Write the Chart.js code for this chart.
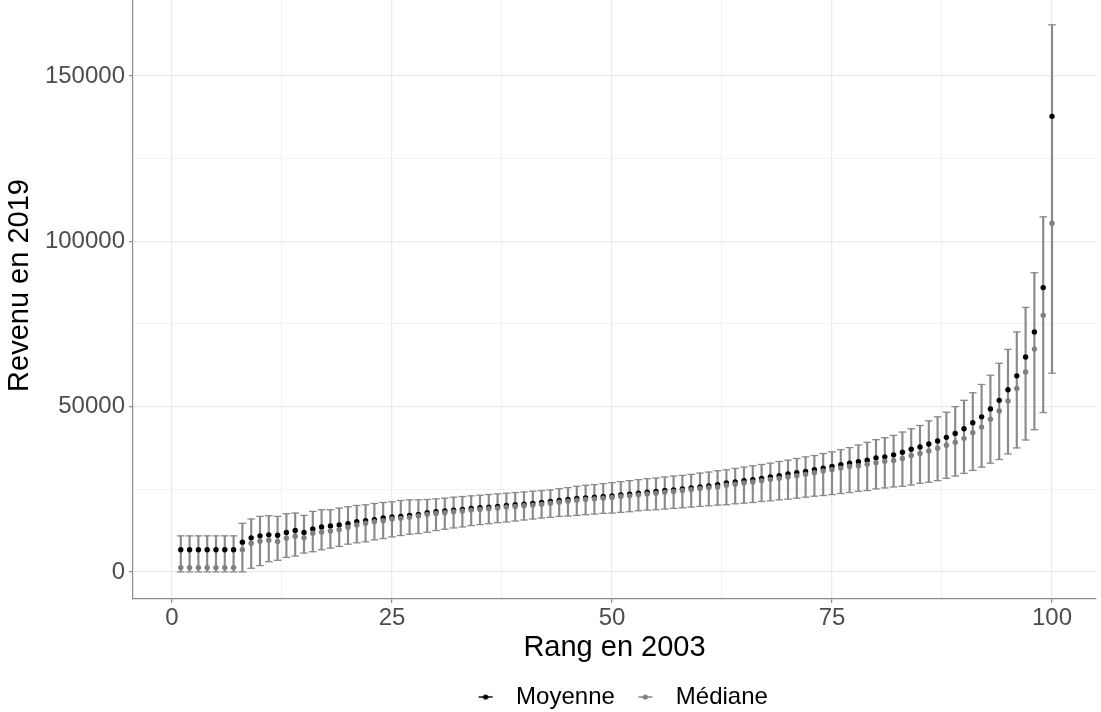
<!DOCTYPE html>
<html>
<head>
<meta charset="utf-8">
<script src="https://cdn.jsdelivr.net/npm/chart.js@4.4.1/dist/chart.umd.min.js"></script>
<style>
html,body{margin:0;padding:0;background:#ffffff;}
#wrap{width:1101px;height:712px;position:relative;}
</style>
</head>
<body>
<div id="wrap"><canvas id="c"></canvas></div>
<script>
// ---- Data ----
const ranks = [1,2,3,4,5,6,7,8,9,10,11,12,13,14,15,16,17,18,19,20,21,22,23,24,25,26,27,28,29,30,31,32,33,34,35,36,37,38,39,40,41,42,43,44,45,46,47,48,49,50,51,52,53,54,55,56,57,58,59,60,61,62,63,64,65,66,67,68,69,70,71,72,73,74,75,76,77,78,79,80,81,82,83,84,85,86,87,88,89,90,91,92,93,94,95,96,97,98,99,100];

const moyenne = [6700,6700,6700,6700,6700,6700,6700,9000,10300,10900,11200,11100,11900,12500,11900,13000,13600,13900,14200,14600,15200,15500,15800,16300,16600,16800,17100,17400,17900,18200,18400,18700,18900,19200,19400,19600,19800,20100,20300,20500,20700,21000,21300,21600,21900,22200,22400,22600,22800,23000,23300,23500,23800,24100,24300,24600,24800,25100,25400,25700,26000,26400,26900,27200,27600,27900,28300,28700,29100,29600,30000,30400,30900,31400,31900,32400,32900,33300,33800,34500,34800,35400,36200,37100,37800,38700,39600,40700,41900,43300,45100,46900,49300,51900,55100,59300,65000,72600,86000,137800];

const mediane = [1300,1300,1300,1300,1300,1300,1300,6700,8700,9300,9600,9200,10200,10800,10300,11700,12100,12400,12800,13500,14200,14700,15200,15500,16000,16200,16500,16900,17400,17700,17900,18200,18400,18700,18900,19100,19300,19600,19800,20000,20200,20500,20800,21100,21400,21700,21900,22100,22300,22500,22800,23000,23300,23600,23800,24100,24300,24600,24900,25200,25500,25700,26200,26500,26900,27200,27600,28000,28300,28700,29100,29500,30000,30500,30900,31400,31900,32100,32600,33000,33500,33700,34300,35200,35800,36600,37400,38300,39200,40400,42100,43800,46200,48700,51700,55500,60500,67400,77600,105500];

const borneHaute = [10900,10900,10900,10900,10900,10900,10900,14700,16000,16800,17000,16800,17600,17800,17100,18300,18800,18800,19300,19700,20100,20300,20700,21000,21200,21600,21800,21800,21900,22100,22300,22600,22800,23000,23200,23400,23600,23800,24000,24200,24400,24600,24800,25200,25500,25900,26200,26400,26700,27000,27300,27600,27900,28200,28400,28700,29000,29200,29500,29900,30200,30600,30900,31300,31700,32100,32500,32900,33400,33800,34300,34800,35200,35800,36300,37000,37600,38400,39200,40000,40600,41300,42300,43300,44300,45700,46900,48300,50000,51900,54200,56700,59500,63100,67300,72600,80000,90500,107400,165500];

const borneBasse = [0,0,0,0,0,0,0,0,1100,1900,3100,3500,4400,4800,5700,6100,6700,7200,7700,8400,8800,9100,9700,10100,10600,11000,11400,11600,12000,12500,12900,13300,13600,14000,14300,14600,14900,15100,15400,15700,16000,16300,16500,16800,16900,17100,17300,17500,17700,17800,18000,18200,18500,18700,18800,19000,19200,19400,19600,19800,20000,20200,20300,20600,20800,21000,21300,21500,21800,22000,22300,22600,22900,23100,23400,23700,24000,24400,24600,25100,25400,25700,25900,26300,26800,27100,27600,28300,29000,29800,30700,31700,32900,34000,35700,37500,39900,43000,48200,60100];

const xMajorTicks = [0, 25, 50, 75, 100];
const xMinorTicks = [12.5, 37.5, 62.5, 87.5];
const yMajorTicks = [0, 50000, 100000, 150000];
const yMinorTicks = [25000, 75000, 125000];

const legendNames = ['Moyenne', 'Médiane'];
const xTitle = 'Rang en 2003';
const yTitle = 'Revenu en 2019';

// ---- Styles ----
const COL_MEAN = '#000000';
const COL_MED = '#7F7F7F';
const COL_BAR = '#8A8A8A';
const GRID = '#EBEBEB';
const AXIS = '#8C8C8C';
const TICKTXT = '#4D4D4D';
const FONT = "'Liberation Sans', Arial, Helvetica, sans-serif";

function keyImg(color) {
  const c = document.createElement('canvas');
  c.width = 16; c.height = 8;
  const g = c.getContext('2d');
  g.strokeStyle = color; g.lineWidth = 1.4;
  g.beginPath(); g.moveTo(1, 4); g.lineTo(15, 4); g.stroke();
  g.fillStyle = color;
  g.beginPath(); g.arc(8, 4, 2.6, 0, Math.PI * 2); g.fill();
  return c;
}
const legendColors = [COL_MEAN, COL_MED];
const keyImgs = legendColors.map(keyImg);

const xGridTicks = xMajorTicks.concat(xMinorTicks).sort((a, b) => a - b);
const yGridTicks = yMajorTicks.concat(yMinorTicks).sort((a, b) => a - b);

// Layout adjustments: centre legend under the panel, raise the y title a little
const layoutTweaks = {
  id: 'layoutTweaks',
  afterLayout(chart) {
    const lg = chart.legend;
    if (lg && lg.lineWidths) {
      const pad = lg.options.labels.padding;
      const rowW = lg.lineWidths[0];
      const curStart = (lg.left + pad + lg.right - rowW) / 2;
      const ca = chart.chartArea;
      const want = (ca.left + ca.right) / 2 - (rowW - pad) / 2 + 3;
      const d = want - curStart;
      lg.left += d; lg.right += d;
    }
    const ys = chart.scales.y;
    if (ys) { ys.top -= 28; }
  }
};

function gridOpts(majors) {
  return {
    offset: false,
    drawTicks: true,
    tickLength: 4,
    tickWidth: 1.2,
    color: ctx => majors.includes(ctx.tick && ctx.tick.value) ? GRID : '#F0F0F0',
    lineWidth: ctx => majors.includes(ctx.tick && ctx.tick.value) ? 1.3 : 0.9,
    tickColor: ctx => majors.includes(ctx.tick && ctx.tick.value) ? AXIS : 'rgba(0,0,0,0)'
  };
}

new Chart(document.getElementById('c'), {
  type: 'scatter',
  data: {
    datasets: [
      {
        type: 'scatter', label: legendNames[0],
        data: ranks.map((r, i) => ({ x: r, y: moyenne[i] })),
        backgroundColor: COL_MEAN, borderColor: COL_MEAN,
        pointRadius: 2.7, pointBorderWidth: 0, order: 1
      },
      {
        type: 'scatter', label: legendNames[1],
        data: ranks.map((r, i) => ({ x: r, y: mediane[i] })),
        backgroundColor: COL_MED, borderColor: COL_MED,
        pointRadius: 2.7, pointBorderWidth: 0, order: 0
      },
      {
        type: 'bar', label: 'intervalle',
        data: ranks.map((r, i) => ({ x: r, y: [borneBasse[i], borneHaute[i]] })),
        backgroundColor: COL_BAR, borderWidth: 0,
        barThickness: 1.5, grouped: false, order: 3
      },
      {
        type: 'scatter', label: 'borne haute',
        data: ranks.map((r, i) => ({ x: r, y: borneHaute[i] })),
        pointStyle: 'line', pointRadius: 3.8,
        borderColor: COL_BAR, backgroundColor: COL_BAR,
        borderWidth: 1.3, pointBorderWidth: 1.3, order: 2
      },
      {
        type: 'scatter', label: 'borne basse',
        data: ranks.map((r, i) => ({ x: r, y: borneBasse[i] })),
        pointStyle: 'line', pointRadius: 3.8,
        borderColor: COL_BAR, backgroundColor: COL_BAR,
        borderWidth: 1.3, pointBorderWidth: 1.3, order: 2
      }
    ]
  },
  options: {
    responsive: true,
    maintainAspectRatio: false,
    animation: false,
    events: [],
    layout: { autoPadding: false, padding: { left: 0, right: 5, top: 0, bottom: 0 } },
    plugins: {
      tooltip: { enabled: false },
      legend: {
        display: true,
        position: 'bottom',
        maxHeight: 39,
        onClick: null,
        labels: {
          usePointStyle: true,
          pointStyleWidth: 37,
          padding: 12,
          color: '#000000',
          font: { family: FONT, size: 24 },
          generateLabels: () => legendNames.map((name, i) => ({
            text: name,
            fillStyle: legendColors[i],
            strokeStyle: legendColors[i],
            lineWidth: 0,
            pointStyle: keyImgs[i],
            hidden: false,
            datasetIndex: i,
            fontColor: '#000000'
          }))
        }
      }
    },
    scales: {
      x: {
        type: 'linear',
        min: -4.43, max: 105.0,
        offset: false,
        afterBuildTicks: s => { s.ticks = xGridTicks.map(v => ({ value: v })); },
        afterFit: s => { s.height = 74; s.paddingLeft = 0; s.paddingRight = 0; },
        grid: gridOpts(xMajorTicks),
        border: { display: true, color: AXIS, width: 1.2 },
        ticks: {
          autoSkip: false, maxRotation: 0, minRotation: 0, padding: 1,
          color: TICKTXT, font: { family: FONT, size: 24 },
          callback: v => xMajorTicks.includes(v) ? String(v) : ''
        },
        title: {
          display: true, text: xTitle, color: '#000000',
          font: { family: FONT, size: 29 },
          padding: { top: 0, bottom: 8 }
        }
      },
      y: {
        type: 'linear',
        min: -8200, max: 173000,
        afterBuildTicks: s => { s.ticks = yGridTicks.map(v => ({ value: v })); },
        afterFit: s => { s.width = 133; s.paddingTop = 0; s.paddingBottom = 0; },
        grid: gridOpts(yMajorTicks),
        border: { display: true, color: AXIS, width: 1.2 },
        ticks: {
          autoSkip: false, padding: 4,
          color: TICKTXT, font: { family: FONT, size: 24 },
          callback: v => yMajorTicks.includes(v) ? String(v) : ''
        },
        title: {
          display: true, text: yTitle, color: '#000000',
          font: { family: FONT, size: 29 },
          padding: { top: 3, bottom: 0 }
        }
      }
    }
  },
  plugins: [layoutTweaks]
});
</script>
</body>
</html>
